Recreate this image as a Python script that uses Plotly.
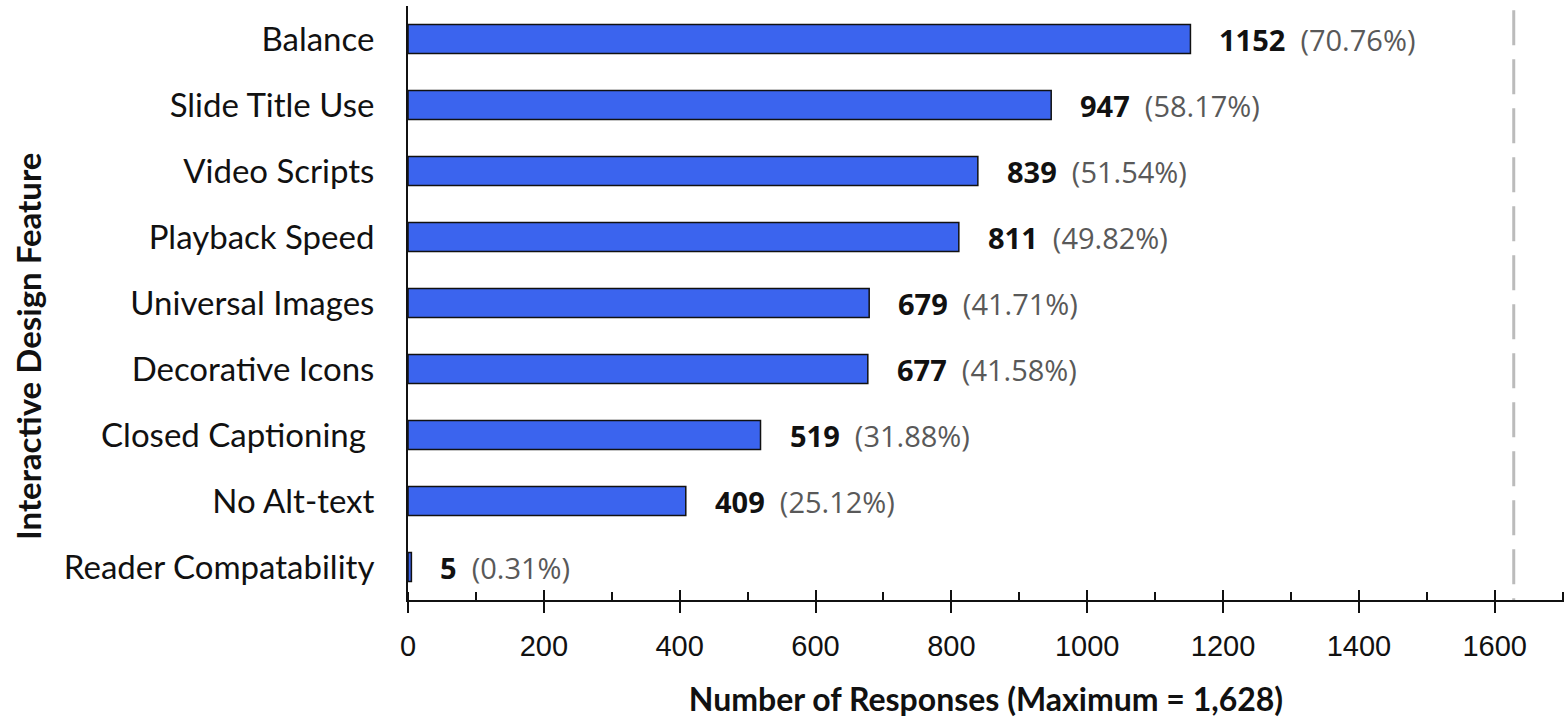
import plotly.graph_objects as go

categories = ["Balance", "Slide Title Use", "Video Scripts", "Playback Speed",
              "Universal Images", "Decorative Icons", "Closed Captioning ",
              "No Alt-text", "Reader Compatability"]
counts = [1152, 947, 839, 811, 679, 677, 519, 409, 5]
percents = ["70.76%", "58.17%", "51.54%", "49.82%", "41.71%", "41.58%",
            "31.88%", "25.12%", "0.31%"]
maximum = 1628
x_ticks = [0, 200, 400, 600, 800, 1000, 1200, 1400, 1600]
x_range = [0, 1702]

fig = go.Figure()
fig.add_trace(go.Bar(
    x=counts, y=categories, orientation="h",
    marker=dict(color="#3B64EE", line=dict(color="#111111", width=1.5)),
    width=0.44, hoverinfo="skip",
))
# invisible helper trace on an overlaid axis to draw the inner half of the major ticks
fig.add_trace(go.Scatter(x=[None], y=[None], xaxis="x2", yaxis="y",
                         showlegend=False, hoverinfo="skip"))

for c, v, p in zip(categories, counts, percents):
    fig.add_annotation(
        x=v, y=c, xref="x", yref="y", xanchor="left", yanchor="middle",
        xshift=27, showarrow=False,
        text=f"<b>{v}</b>  <span style='color:#595959'>({p})</span>",
        font=dict(family="Open Sans, Liberation Sans, sans-serif", size=29, color="#111111"),
    )

# y-axis title (placed as annotation to match the off-centre position)
fig.add_annotation(
    x=0, y=0.426, xref="paper", yref="paper", xshift=-380, showarrow=False,
    textangle=-90, xanchor="center", yanchor="middle",
    text="<b>Interactive Design Feature</b>",
    font=dict(family="Lato, sans-serif", size=33, color="#111111"),
)

fig.add_shape(type="line", x0=maximum, x1=maximum, y0=0.993, y1=0, xref="x", yref="paper",
              line=dict(color="#BBBBBB", width=3, dash="35px,14px"))

fig.update_layout(
    width=1566, height=719,
    margin=dict(l=408, r=2, t=6, b=119),
    plot_bgcolor="white", paper_bgcolor="white",
    showlegend=False,
    xaxis=dict(
        range=x_range, tickvals=x_ticks, ticktext=[str(t) for t in x_ticks],
        showgrid=False, zeroline=False, showline=True, linecolor="#111111", linewidth=2,
        ticks="outside", ticklen=11, tickwidth=2, tickcolor="#111111",
        ticklabelstandoff=8,
        minor=dict(dtick=100, ticks="inside", ticklen=8, tickwidth=2, tickcolor="#111111"),
        tickfont=dict(family="Liberation Sans, Arial, sans-serif", size=29, color="#111111"),
        title=dict(text="<b>Number of Responses (Maximum = 1,628)</b>",
                   font=dict(family="Lato, sans-serif", size=32, color="#111111"),
                   standoff=28),
    ),
    xaxis2=dict(
        overlaying="x", anchor="y", side="bottom", range=x_range,
        tickvals=x_ticks, showticklabels=False, showgrid=False, zeroline=False,
        showline=False, ticks="inside", ticklen=10, tickwidth=2, tickcolor="#111111",
    ),
    yaxis=dict(
        categoryorder="array", categoryarray=categories[::-1],
        range=[-0.5, 8.5],
        showgrid=False, zeroline=False, showline=True, linecolor="#111111", linewidth=2,
        ticks="outside", ticklen=25, tickcolor="rgba(0,0,0,0)",
        tickfont=dict(family="Lato, sans-serif", size=33, color="#111111"),
    ),
)

fig.write_html("out.html")
